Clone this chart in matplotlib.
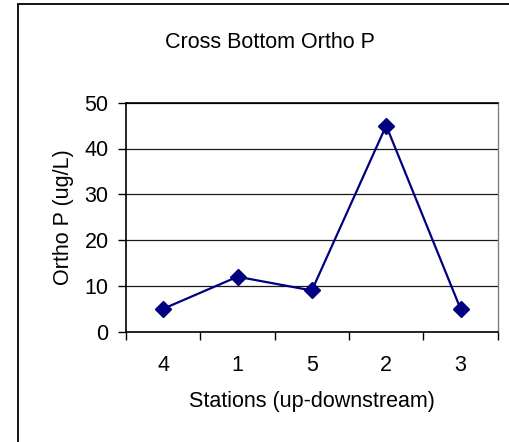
import numpy as np
import matplotlib
matplotlib.use("Agg")
import matplotlib.pyplot as plt
from matplotlib.patches import Rectangle
from matplotlib.ticker import FixedLocator, NullFormatter, FixedFormatter

plt.rcParams['font.family'] = ['Liberation Sans', 'DejaVu Sans']

## data
stations = ['4', '1', '5', '2', '3']
ortho_p = [5, 12, 9, 45, 5]
y_ticks = [0, 10, 20, 30, 40, 50]

fig = plt.figure(figsize=(5.10, 4.42), dpi=100)
ax = fig.add_axes([126/510, 1 - 331.7/442, (497.7 - 126)/510, (331.7 - 102.7)/442])

# chart area border (only top/left visible, rest cropped)
fig.add_artist(Rectangle((18/510, -0.2), 1.2, 1.2 - 4/442 , transform=fig.transFigure,
                         fill=False, edgecolor='black', linewidth=1.3))

x = np.arange(len(stations))
ax.plot(x, ortho_p, color='#000080', linewidth=1.6, marker='D', markersize=8.5,
        markerfacecolor='#000080', markeredgecolor='#000080', zorder=3)

ax.set_xlim(-0.5, len(stations) - 0.5)
ax.set_ylim(0, 50)
ax.set_yticks(y_ticks)
ax.yaxis.grid(True, color='#1a1a1a', linewidth=0.9)
ax.set_axisbelow(True)

# category boundaries get the tick marks, labels sit in between
ax.xaxis.set_major_locator(FixedLocator(np.arange(-0.5, len(stations), 1.0)))
ax.xaxis.set_major_formatter(NullFormatter())
ax.xaxis.set_minor_locator(FixedLocator(x))
ax.xaxis.set_minor_formatter(FixedFormatter(stations))
ax.tick_params(axis='x', which='major', direction='out', length=5.5, width=1.0)
ax.tick_params(axis='x', which='minor', length=0, pad=17, labelsize=15.5)
ax.tick_params(axis='y', direction='out', length=5.5, width=1.0, pad=7, labelsize=15.5)

for s in ['left', 'bottom', 'top']:
    ax.spines[s].set_color('black')
    ax.spines[s].set_linewidth(1.2)
ax.spines['right'].set_color('#808080')
ax.spines['right'].set_linewidth(1.0)

ax.set_xlabel('Stations (up-downstream)', fontsize=15.5, va='center')
ax.xaxis.set_label_coords(0.5, (331.7 - 401) / 229)
ax.set_ylabel('Ortho P (ug/L)', fontsize=15.5, va='center')
ax.yaxis.set_label_coords((63 - 126) / 371.7, 0.5)

fig.text(270/510, 1 - 43/442, 'Cross Bottom Ortho P', fontsize=15.5, ha='center', va='center')

fig.savefig('out.png', dpi=100)
